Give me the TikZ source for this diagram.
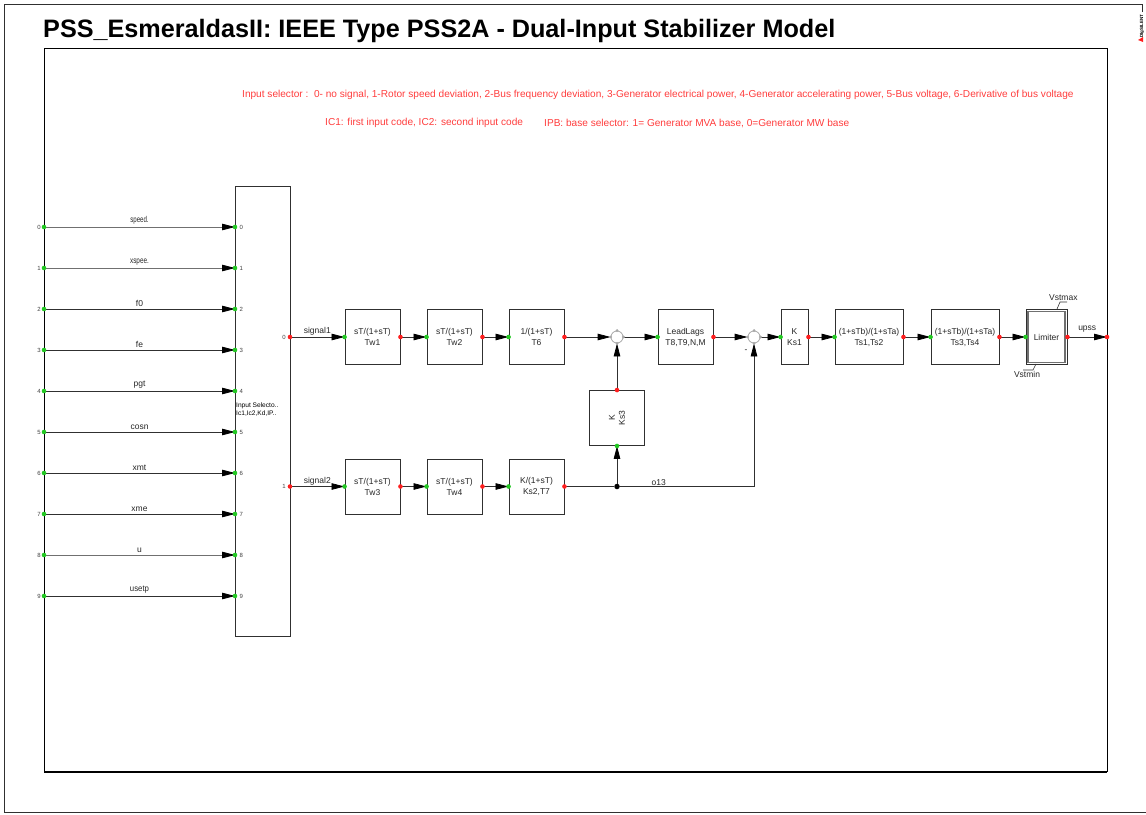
\documentclass[tikz,border=0pt]{standalone}
\usepackage{fontspec}
\setmainfont{Liberation Sans}
\usetikzlibrary{arrows.meta,positioning}
\definecolor{pfwire}{HTML}{303030}
\definecolor{pfgrey}{HTML}{707070}
\definecolor{pfgreen}{HTML}{22C822}
\definecolor{pfred}{HTML}{FF1E1E}
\definecolor{pfnote}{HTML}{FF3C3C}
\definecolor{pfsum}{HTML}{A8A8A8}

\begin{document}
\begin{tikzpicture}[x=1pt, y=-1pt,
    block/.style={rectangle, draw=pfwire, line width=0.9pt, fill=white, minimum width=55pt, minimum height=55pt, inner sep=0pt, font=\fontsize{8.5}{11}\selectfont, align=center, text=black!85},
    sumpt/.style={circle, draw=pfsum, line width=0.8pt, fill=white, minimum size=12pt, inner sep=0pt},
    wire/.style={draw=pfwire, line width=0.8pt},
    sig/.style={wire, -{Triangle[length=13pt,width=6.5pt,color=black]}},
    inport/.style={circle, fill=pfgreen, inner sep=0pt, minimum size=4.6pt},
    outport/.style={circle, fill=pfred, inner sep=0pt, minimum size=4.6pt},
    lbl/.style={font=\fontsize{8.5}{10}\selectfont, text=black!85, inner sep=1pt},
    portnum/.style={font=\fontsize{6}{7}\selectfont, text=black!75, inner sep=0pt},
    note/.style={font=\fontsize{10.1}{12}\selectfont, text=pfnote, inner sep=0pt, anchor=west},
]
\useasboundingbox (0,0) rectangle (1146,814);

% sheet frames
\draw[pfwire, line width=0.9pt] (1142,12) -- (1142,4) -- (4,4) -- (4,812) -- (1146,812);
\draw[black, line width=0.7pt] (44,772) -- (44,48) -- (1107,48) -- (1107,772);
\draw[black, line width=1.4pt] (44,772) -- (1107,772);
\node[rotate=90, font=\fontsize{4.5}{5}\selectfont\bfseries, inner sep=0pt] (logo) at (1142,26) {DIgSILENT};
\fill[pfred] (1138,40) -- (1143,37) -- (1143,42) -- cycle;

\node[anchor=west, font=\fontsize{25.2}{28}\selectfont\bfseries, inner sep=0pt] (title) at (43,31) {PSS\_EsmeraldasII: IEEE Type PSS2A - Dual-Input Stabilizer Model};

\node[note] (selnote) at (242,95) {Input selector :\ \ 0- no signal, 1-Rotor speed deviation, 2-Bus frequency deviation, 3-Generator electrical power, 4-Generator accelerating power, 5-Bus voltage, 6-Derivative of bus voltage};
\node[note] (icnote) at (325,123) {IC1: first input code, IC2: second input code};
\node[note] (ipbnote) at (544,123) {IPB: base selector: 1= Generator MVA base, 0=Generator MW base};

% input selector
\foreach \i/\sname/\col/\sx in {0/speed./pfgrey/0.72,1/xspee./pfgrey/0.75,2/f0/pfwire/1,3/fe/pfwire/1,4/pgt/pfwire/1,5/cosn/pfwire/1,6/xmt/pfwire/1,7/xme/pfwire/1,8/u/pfgrey/1,9/usetp/pfwire/0.92}{
    \coordinate (in\i) at (44,{227+41*\i});
    \coordinate (sel\i) at (235,{227+41*\i});
    \draw[sig, draw=\col] (in\i) -- node[lbl, above=1pt, xscale=\sx] {\sname} (sel\i);
    \node[portnum, anchor=east] at ([xshift=-3pt]in\i) {\i};
}
\node[block, minimum height=450pt] (selector) at (262.5,411) {};
\node[anchor=west, align=left, font=\fontsize{6.6}{8}\selectfont, inner sep=0pt] (selname) at (236,410) {Input Selecto..\\Ic1,Ic2,Kd,IP..};
\foreach \i in {0,...,9}{
    \node[inport] at (in\i) {};
    \node[inport] at (sel\i) {};
    \node[portnum, anchor=west] at ([xshift=4.5pt]sel\i) {\i};
}
\coordinate (selout0) at (290,337);
\coordinate (selout1) at (290,486.5);
\node[portnum, anchor=east] at ([xshift=-4pt]selout0) {0};
\node[portnum, anchor=east] at ([xshift=-4pt]selout1) {1};

% first input path
\node[block] (tw1) at (372.5,337) {sT/(1+sT)\\Tw1};
\node[block] (tw2) at (454.5,337) {sT/(1+sT)\\Tw2};
\node[block] (t6) at (536.5,337) {1/(1+sT)\\T6};
\node[sumpt] (sum1) at (617,337) {};
\node[block] (leadlag) at (685.5,337) {LeadLags\\T8,T9,N,M};
\node[sumpt] (sum2) at (754,337) {};
\node[block, minimum width=27pt] (ks1) at (794.5,337) {K\\Ks1};
\node[block, minimum width=68pt] (ts12) at (869,337) {(1+sTb)/(1+sTa)\\Ts1,Ts2};
\node[block, minimum width=68pt] (ts34) at (965,337) {(1+sTb)/(1+sTa)\\Ts3,Ts4};
\node[block, minimum width=41pt] (limiter) at (1046.5,337) {Limiter};
\draw[pfgrey, line width=1.3pt] ([shift={(2.5pt,-2.5pt)}]limiter.north west) rectangle ([shift={(-2.5pt,2.5pt)}]limiter.south east);
\coordinate (upss) at (1107,337);

% second input path
\node[block] (tw3) at (372.5,486.5) {sT/(1+sT)\\Tw3};
\node[block] (tw4) at (454.5,486.5) {sT/(1+sT)\\Tw4};
\node[block] (ks2t7) at (536.5,486.5) {K/(1+sT)\\Ks2,T7};
\node[block] (ks3) at (617,418) {};
\node[lbl, rotate=90, align=center] (ks3name) at (ks3.center) {K\\Ks3};
\node[circle, fill=black, inner sep=0pt, minimum size=5.5pt] (junc) at (617,486.5) {};
\coordinate (bend) at (754,486.5);

\draw[sig] (selout0) -- node[lbl, above] {signal1} (tw1.west);
\draw[sig] (tw1.east) -- (tw2.west);
\draw[sig] (tw2.east) -- (t6.west);
\draw[sig] (t6.east) -- (sum1.west);
\draw[sig] (sum1.east) -- (leadlag.west);
\draw[sig] (leadlag.east) -- (sum2.west);
\draw[sig] (sum2.east) -- (ks1.west);
\draw[sig] (ks1.east) -- (ts12.west);
\draw[sig] (ts12.east) -- (ts34.west);
\draw[sig] (ts34.east) -- (limiter.west);
\draw[sig] (limiter.east) -- node[lbl, above=3pt] {upss} (upss);
\draw[sig] (ks3.north) -- (sum1.south);
\draw[sig] (selout1) -- node[lbl, above] {signal2} (tw3.west);
\draw[sig] (tw3.east) -- (tw4.west);
\draw[sig] (tw4.east) -- (ks2t7.west);
\draw[wire] (ks2t7.east) -- (junc);
\draw[sig] (junc) -- (ks3.south);
\draw[wire] (junc) -- node[lbl, above, pos=0.29] {o13} (bend);
\draw[sig] (bend) -- (sum2.south);
\node[lbl] (minus) at (746,351) {-};

% limits
\draw[pfwire, line width=0.6pt] (1057,309) -- (1060,302) -- (1067,302);
\node[lbl, anchor=south west] (vmax) at (1048,302) {Vstmax};
\draw[pfwire, line width=0.6pt] (1036,364) -- (1033,370) -- (1023,370);
\node[lbl, anchor=north] (vmin) at (1027,370) {Vstmin};

% ports
\foreach \s in {sum1,sum2}
    \foreach \a in {north,south,east,west}
        \fill[pfsum] (\s.\a) circle (1.6pt);
\foreach \b in {tw1,tw2,t6,leadlag,ks1,ts12,ts34,limiter,tw3,tw4,ks2t7}{
    \node[inport] at (\b.west) {};
    \node[outport] at (\b.east) {};
}
\node[inport] at (ks3.south) {};
\node[outport] at (ks3.north) {};
\node[outport] at (selout0) {};
\node[outport] at (selout1) {};
\node[outport] at (upss) {};
\end{tikzpicture}
\end{document}
